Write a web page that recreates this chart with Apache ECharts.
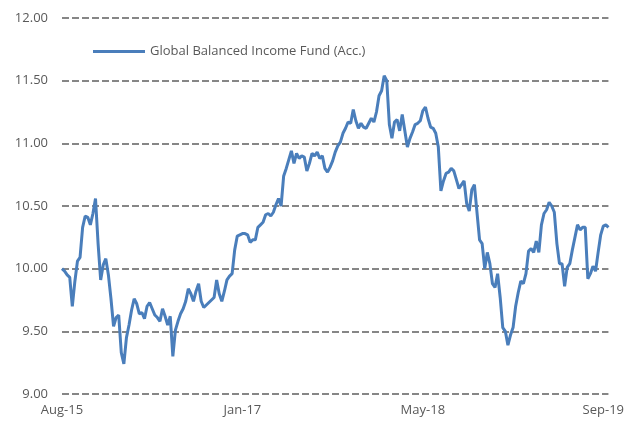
<!DOCTYPE html>
<html>
<head>
<meta charset="utf-8">
<script src="https://cdn.jsdelivr.net/npm/echarts@6/dist/echarts.min.js"></script>
<style>
  html, body { margin: 0; padding: 0; background: #fff; }
  #chart { width: 627px; height: 425px; }
</style>
</head>
<body>
<div id="chart"></div>
<script>
// weekly prices, first week 31 Aug 2015
var startDate = '2015-08-31';
var seriesName = 'Global Balanced Income Fund (Acc.)';
var prices = [
  10.00, 9.98, 9.95, 9.93, 9.70, 9.90, 10.06, 10.09, 10.33, 10.42,
  10.41, 10.35, 10.44, 10.56, 10.20, 9.91, 10.03, 10.08, 9.95, 9.76,
  9.54, 9.61, 9.63, 9.33, 9.24, 9.45, 9.55, 9.67, 9.76, 9.72,
  9.64, 9.65, 9.60, 9.70, 9.73, 9.68, 9.63, 9.61, 9.58, 9.68,
  9.62, 9.55, 9.62, 9.30, 9.51, 9.58, 9.64, 9.68, 9.74, 9.84,
  9.80, 9.74, 9.82, 9.88, 9.74, 9.69, 9.71, 9.73, 9.75, 9.77,
  9.91, 9.80, 9.74, 9.82, 9.91, 9.94, 9.96, 10.15, 10.26, 10.27,
  10.28, 10.28, 10.27, 10.21, 10.23, 10.23, 10.33, 10.35, 10.37, 10.43,
  10.44, 10.42, 10.45, 10.51, 10.56, 10.50, 10.74, 10.80, 10.87, 10.94,
  10.84, 10.92, 10.88, 10.90, 10.89, 10.78, 10.84, 10.92, 10.90, 10.93,
  10.88, 10.90, 10.80, 10.77, 10.81, 10.86, 10.93, 10.98, 11.01, 11.08,
  11.12, 11.17, 11.16, 11.27, 11.18, 11.12, 11.16, 11.13, 11.12, 11.16,
  11.20, 11.17, 11.25, 11.38, 11.42, 11.54, 11.50, 11.15, 11.04, 11.17,
  11.19, 11.10, 11.23, 11.10, 10.97, 11.04, 11.09, 11.15, 11.16, 11.18,
  11.26, 11.29, 11.20, 11.13, 11.12, 11.08, 10.97, 10.62, 10.70, 10.76,
  10.77, 10.80, 10.78, 10.71, 10.64, 10.67, 10.70, 10.52, 10.46, 10.63,
  10.67, 10.45, 10.23, 10.20, 10.00, 10.13, 10.04, 9.88, 9.85, 9.96,
  9.77, 9.53, 9.50, 9.39, 9.47, 9.53, 9.70, 9.81, 9.90, 9.88,
  9.96, 10.14, 10.16, 10.13, 10.22, 10.13, 10.35, 10.44, 10.47, 10.53,
  10.50, 10.45, 10.20, 10.04, 10.04, 9.86, 10.01, 10.04, 10.15, 10.25,
  10.35, 10.31, 10.33, 10.33, 9.92, 9.96, 10.02, 9.98, 10.13, 10.27,
  10.34, 10.35, 10.33
];
var months = ['Jan','Feb','Mar','Apr','May','Jun','Jul','Aug','Sep','Oct','Nov','Dec'];

function weeklyLabels(start, n) {
    var labels = [];
    var d = new Date(start + 'T00:00:00Z');
    for (var i = 0; i < n; i++) {
        var t = new Date(d.getTime() + i * 7 * 86400000);
        labels.push(months[t.getUTCMonth()] + '-' + String(t.getUTCFullYear()).slice(2));
    }
    return labels;
}

var weeks = weeklyLabels(startDate, prices.length);

var myChart = echarts.init(document.getElementById('chart'));

var textColor = '#595959';
var font = '"Open Sans", sans-serif';

var option = {
    animation: false,
    backgroundColor: '#ffffff',
    grid: {
        left: 62,
        right: 15,
        top: 18,
        bottom: 31
    },
    legend: {
        left: 88,
        top: 40,
        icon: 'rect',
        itemWidth: 52,
        itemHeight: 3,
        itemGap: 10,
        textStyle: { color: textColor, fontSize: 13, fontFamily: font },
        data: [seriesName]
    },
    xAxis: {
        type: 'category',
        boundaryGap: false,
        data: weeks,
        axisLine: { show: false },
        axisTick: { show: false },
        axisLabel: {
            interval: 69,
            color: textColor,
            fontSize: 13,
            fontFamily: font,
            margin: 10
        },
        splitLine: { show: false }
    },
    yAxis: {
        type: 'value',
        min: 9,
        max: 12,
        interval: 0.5,
        axisLine: { show: false },
        axisTick: { show: false },
        axisLabel: {
            color: textColor,
            fontSize: 13,
            fontFamily: font,
            margin: 14,
            formatter: function (v) { return v.toFixed(2); }
        },
        splitLine: {
            lineStyle: { color: '#868686', width: 2, type: [7, 3] }
        }
    },
    series: [{
        name: seriesName,
        type: 'line',
        data: prices,
        showSymbol: false,
        lineStyle: { color: '#4a7ebb', width: 3 },
        itemStyle: { color: '#4a7ebb' }
    }]
};

myChart.setOption(option);
</script>
</body>
</html>
